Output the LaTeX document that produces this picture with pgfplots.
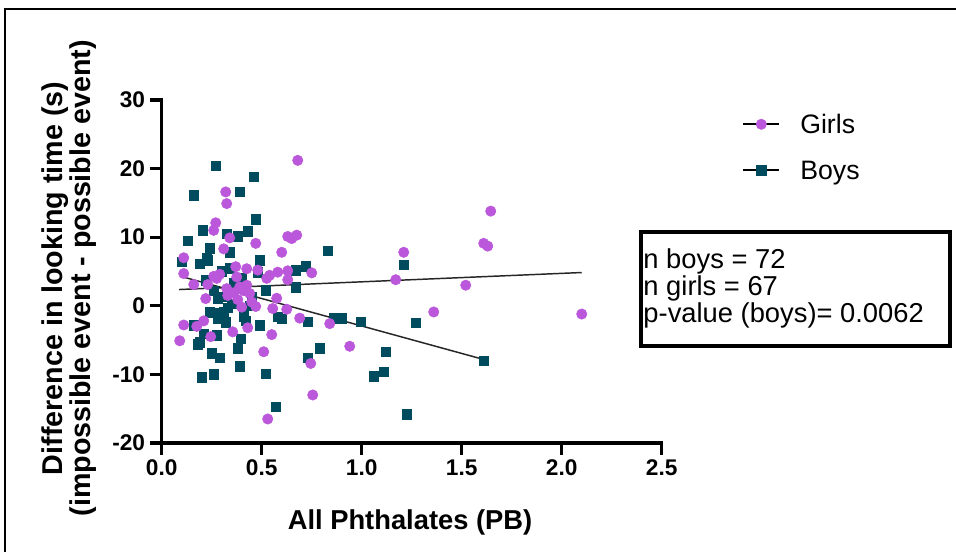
\documentclass[border=0pt]{standalone}
\usepackage{pgfplots}
\pgfplotsset{compat=1.18}
\usepackage{fontspec}
\setmainfont{Liberation Sans}
\definecolor{girlc}{RGB}{187,87,218}
\definecolor{boyc}{RGB}{0,76,94}

\begin{document}
\begin{tikzpicture}
\useasboundingbox (0,0) rectangle (717pt,414pt);
\fill[white] (0,0) rectangle (717pt,414pt);
% thin frame along the top and left edges
\draw[line width=0.8pt] (3.75pt,0pt) -- (3.75pt,407.25pt) -- (717pt,407.25pt);

\begin{axis}[
  at={(121.3pt,81.75pt)}, anchor=south west,
  width=375pt, height=257.25pt, scale only axis,
  xmin=0, xmax=2.5, ymin=-20, ymax=30,
  axis lines=left,
  axis line style={-, line width=2.4pt, line cap=rect},
  tick style={line width=2.4pt, black},
  major tick length=9pt, tick align=outside,
  xtick={0,0.5,1,1.5,2,2.5},
  ytick={-20,-10,0,10,20,30},
  /pgf/number format/assume math mode=true,
  xticklabel style={/pgf/number format/.cd, fixed, fixed zerofill, precision=1},
  ticklabel style={font=\fontsize{17}{17}\selectfont\bfseries},
  xlabel={All Phthalates (PB)},
  xlabel style={font=\fontsize{20.5}{21}\selectfont\bfseries,
    at={(axis description cs:0.4966,-0.2536)}, anchor=base},
  ylabel={Difference in looking time (s)\\(impossible event - possible event)},
  ylabel style={font=\fontsize{21.5}{21}\selectfont\bfseries, align=center,
    at={(axis description cs:-0.1854,0.48)}, anchor=center},
  reverse legend,
  legend cell align=left,
  legend style={draw=none, fill=none, inner sep=0pt, column sep=15pt, row sep=20.1pt,
    at={(axis description cs:1.1606,0.958)}, anchor=north west,
    font=\fontsize{20}{20}\selectfont,
    nodes={inner sep=0pt, text height=14.4pt, text depth=0pt}},
  legend image code/.code={
    \draw[black, line width=1.5pt] (0pt,0pt) -- (27pt,0pt);
    \draw[only marks] plot coordinates {(13.5pt,0pt)};
  },
]

% linear fits
\addplot[forget plot, black!85, line width=1.1pt] coordinates {(0.087,2.37) (2.10,4.85)};
\addplot[forget plot, black!85, line width=1.1pt] coordinates {(0.10,4.26) (1.608,-7.81)};

% boys
\addplot[only marks, mark=square*, mark size=3.6pt, mark options={draw=boyc, fill=boyc}]
coordinates {
(0.27,20.4) (0.46,18.8) (0.16,16.1) (0.39,16.6) (0.47,12.6) (0.205,11.0)
(0.325,10.5) (0.43,10.9) (0.38,10.1) (0.13,9.5) (0.24,8.4) (0.34,7.8)
(0.83,8.0) (0.10,6.4) (0.19,6.1) (0.23,6.6) (0.225,7.0) (0.49,6.6)
(0.30,5.0) (0.48,4.9) (0.72,5.8) (0.67,5.2) (0.52,2.3) (0.67,2.7)
(0.22,3.7) (1.21,6.0) (0.28,1.1) (0.30,1.3) (0.24,-0.9) (0.31,-0.9)
(0.28,-1.9) (0.32,-2.4) (0.42,-2.2) (0.49,-2.8) (0.58,-1.6) (0.73,-2.3)
(0.86,-1.8) (0.90,-1.8) (0.995,-2.3) (1.27,-2.5) (0.19,-5.3) (0.21,-4.1)
(0.16,-2.8) (0.275,-4.3) (0.395,-4.8) (0.38,-6.2) (0.25,-6.9) (0.29,-7.6)
(0.39,-8.8) (0.79,-6.2) (0.73,-7.6) (0.20,-10.4) (0.26,-10.0) (0.52,-9.9)
(0.57,-14.7) (1.12,-6.7) (1.11,-9.6) (1.06,-10.3) (1.225,-15.8) (1.61,-8.0)
(0.35,0.3) (0.44,0.0) (0.33,-0.3) (0.26,2.2) (0.36,3.3) (0.45,1.2)
(0.18,-5.6) (0.40,4.0) (0.28,-1.0) (0.60,-1.9) (0.41,-1.5) (0.34,5.5)
};
\addlegendentry{Boys}

% girls
\addplot[only marks, mark=*, mark size=3.9pt, mark options={draw=girlc, fill=girlc}]
coordinates {
(0.68,21.2) (0.32,16.6) (0.325,14.9) (1.645,13.8) (0.27,12.1) (0.26,11.0)
(0.34,9.9) (0.47,9.1) (0.31,8.3) (0.60,7.8) (0.63,10.1) (0.65,9.8)
(0.675,10.3) (0.11,7.0) (1.61,9.1) (1.63,8.7) (1.21,7.8) (1.17,3.8)
(1.52,3.0) (2.10,-1.2) (1.36,-0.9) (0.94,-5.9) (0.84,-2.6) (0.09,-5.1)
(0.11,-2.8) (0.175,-3.0) (0.21,-2.2) (0.245,-4.5) (0.355,-3.8) (0.43,-3.2)
(0.51,-6.7) (0.55,-4.2) (0.625,-0.5) (0.69,-1.8) (0.745,-8.4) (0.755,-13.0)
(0.53,-16.5) (0.575,1.1) (0.555,-0.4) (0.40,-0.2) (0.22,1.05) (0.11,4.7)
(0.16,3.1) (0.23,3.1) (0.26,4.3) (0.275,4.0) (0.37,5.7) (0.425,5.4)
(0.375,4.2) (0.48,5.2) (0.525,4.0) (0.54,4.45) (0.58,4.9) (0.63,5.1)
(0.63,3.8) (0.75,4.8) (0.325,2.5) (0.33,1.5) (0.39,2.75) (0.425,3.0)
(0.44,1.8) (0.45,0.55) (0.36,1.9) (0.41,2.2) (0.38,0.9) (0.29,4.6)
(0.47,-0.1)
};
\addlegendentry{Girls}
\end{axis}

% summary box
\draw[line width=2.6pt] (480.75pt,154.5pt) rectangle (712.5pt,240pt);
\node[anchor=north west, inner sep=0pt, align=left, font=\fontsize{20.5}{20.25}\selectfont]
  at (482.4pt,227.4pt) {n boys = 72\\n girls = 67\\p-value (boys)= 0.0062};
\end{tikzpicture}
\end{document}
